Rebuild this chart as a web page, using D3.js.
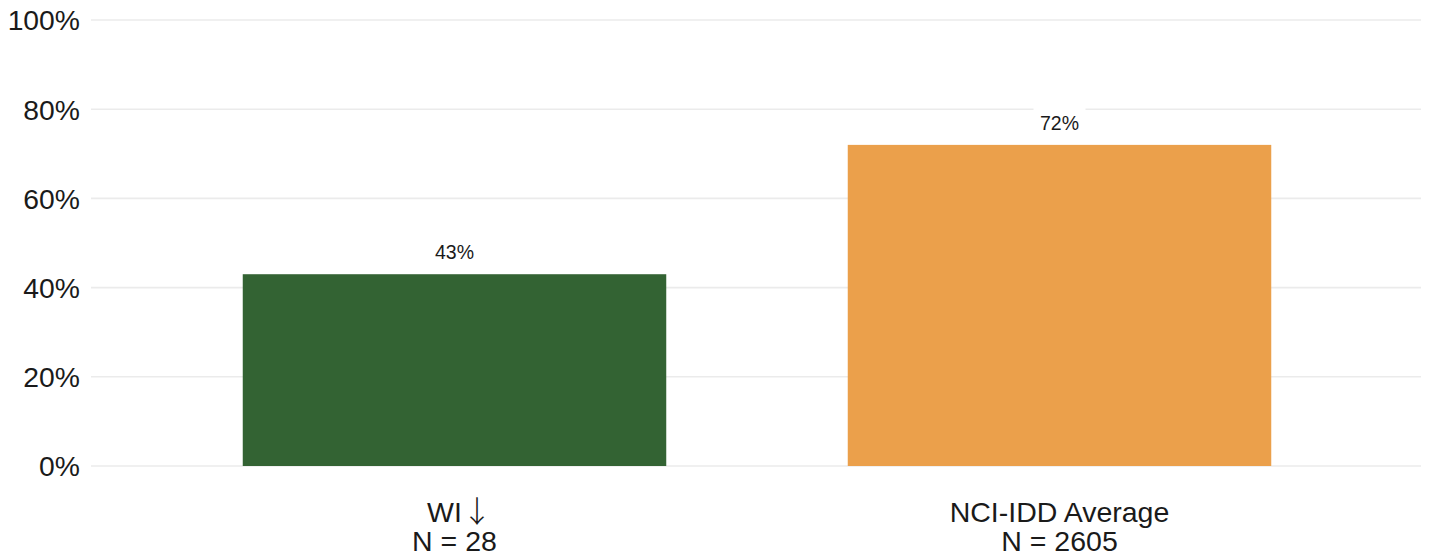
<!DOCTYPE html>
<html><head><meta charset="utf-8">
<script src="https://cdn.jsdelivr.net/npm/d3@7"></script>
<style>
html,body{margin:0;padding:0;background:#fff;}
svg{display:block;font-family:"Liberation Sans",Arial,sans-serif;}
</style></head>
<body>
<svg id="chart" width="1429" height="560"></svg>
<script>
const categories = ["WI ↓", "NCI-IDD Average"];
const sampleSizes = ["N = 28", "N = 2605"];
const values = [43, 72];
const barLabels = ["43%", "72%"];
const colors = ["#336333", "#EBA04B"];
const yTicks = [0, 20, 40, 60, 80, 100];

const svg = d3.select("#chart");
const x = d3.scaleBand().domain(categories).range([91.5, 1422.5]).paddingInner(0.3).paddingOuter(0.25);
const y = d3.scaleLinear().domain([0, 100]).range([466, 20]);

// gridlines
svg.append("g").selectAll("line").data(yTicks).join("line")
  .attr("x1", 91).attr("x2", 1421)
  .attr("y1", d => y(d)).attr("y2", d => y(d))
  .attr("stroke", "#ebebeb").attr("stroke-width", 1.6);

// y axis
const yAxis = d3.axisLeft(y).tickValues(yTicks).tickFormat(d => d + "%").tickSize(0).tickPadding(0);
const gy = svg.append("g").attr("transform", "translate(80,0)").call(yAxis);
gy.select(".domain").remove();
gy.selectAll("text").attr("font-size", 28.3).attr("fill", "#1a1a1a")
  .attr("font-family", "Liberation Sans, Arial, sans-serif").attr("dy", "0.35em");

// bars
svg.append("g").selectAll("rect").data(values).join("rect")
  .attr("x", (d, i) => x(categories[i]))
  .attr("width", x.bandwidth())
  .attr("y", d => y(d))
  .attr("height", d => y(0) - y(d))
  .attr("fill", (d, i) => colors[i]);

// value labels with white background
const lab = svg.append("g").selectAll("g").data(values).join("g")
  .attr("transform", (d, i) => `translate(${x(categories[i]) + x.bandwidth() / 2},${y(d) - 22})`);
lab.append("rect").attr("x", -26).attr("y", -15).attr("width", 52).attr("height", 30).attr("fill", "#fff");
lab.append("text").attr("text-anchor", "middle").attr("dy", "0.35em")
  .attr("font-size", 19.5).attr("fill", "#1a1a1a")
  .text((d, i) => barLabels[i]);

// x axis labels
const xAxis = d3.axisBottom(x).tickSize(0).tickFormat("");
const gx = svg.append("g").attr("transform", `translate(0,${y(0)})`).call(xAxis);
gx.select(".domain").remove();
const xl = svg.append("g").selectAll("text").data(categories).join("text")
  .attr("text-anchor", "middle")
  .attr("font-size", 28.5).attr("fill", "#1a1a1a")
  .attr("x", d => x(d) + x.bandwidth() / 2)
  .attr("y", 522);
xl.append("tspan")
  .attr("x", d => x(d) + x.bandwidth() / 2 + (d.includes("↓") ? 5 : 0))
  .each(function (d) {
    const t = d3.select(this);
    const parts = d.split("↓");
    t.append("tspan").text(parts[0].trimEnd());
    if (parts.length > 1) {
      t.append("tspan").attr("font-family", "Noto Sans CJK JP").attr("font-weight", 300)
        .attr("font-size", 30).text("↓");
      t.append("tspan").text(parts[1]);
    }
  });
xl.append("tspan").attr("x", d => x(d) + x.bandwidth() / 2).attr("dy", 29).text((d, i) => sampleSizes[i]);
</script>
</body></html>
